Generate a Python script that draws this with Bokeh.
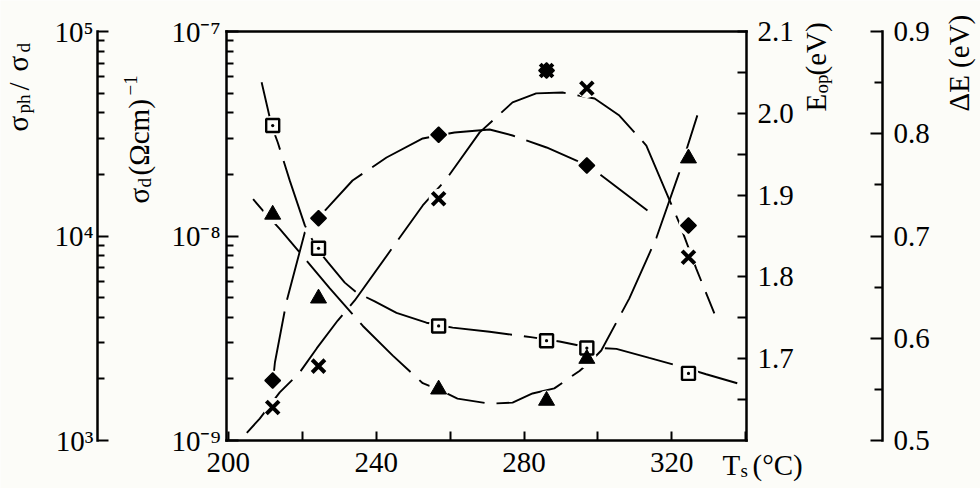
import math
from bokeh.plotting import figure
from bokeh.models import Range1d, LogScale, LinearScale, LinearAxis, LogAxis, FixedTicker, Label
from bokeh.embed import file_html
from bokeh.resources import INLINE

FONT = "Liberation Serif"
BG = "#fcfcf8"

# ---------------- data ----------------
Ts = [212.0, 224.4, 256.9, 286.1, 297.0, 324.5]
# crosses: sigma_d (Ohm cm)^-1
sigma_d = [1.45e-9, 2.31e-9, 1.52e-8, 6.45e-8, 5.28e-8, 7.87e-9]
# diamonds: sigma_ph / sigma_d
ratio = [1965, 12220, 31250, 64460, 22120, 11250]
# squares: E_op (eV)
eop = [1.985, 1.835, 1.740, 1.722, 1.713, 1.682]
# triangles: Delta E (eV)
dE = [0.721, 0.639, 0.550, 0.539, 0.580, 0.776]

# hand-drawn guide curves
sq_curve_T = [209.0, 211.7, 213.4, 216.6, 220.7, 223.9, 226.9, 231.5, 234.7, 239.6, 245.5, 253.6,
              260.7, 270.7, 282.3, 289.6, 297.2, 305.0, 313.9, 321.2, 329.3, 337.7]
sq_curve_v = [2.038, 1.985, 1.964, 1.918, 1.863, 1.835, 1.818, 1.793, 1.781, 1.770, 1.756, 1.744,
              1.738, 1.733, 1.726, 1.721, 1.714, 1.712, 1.701, 1.692, 1.681, 1.670]

tri_curve_T = [206.7, 209.3, 213.9, 219.3, 227.4, 236.4, 244.5, 252.6, 258.0, 262.0, 270.7, 276.9,
               282.3, 288.2, 295.0, 298.2, 300.9, 308.5, 315.8, 322.0, 326.9]
tri_curve_v = [0.736, 0.725, 0.707, 0.684, 0.649, 0.612, 0.583, 0.556, 0.548, 0.541, 0.536, 0.537,
               0.546, 0.551, 0.568, 0.578, 0.588, 0.639, 0.698, 0.762, 0.818]

x_curve_T = [205.0, 208.5, 213.9, 219.3, 223.9, 229.6, 234.2, 252.6, 259.1, 268.0, 276.9, 283.3,
             290.4, 299.1, 305.8, 313.1, 318.5, 322.0, 326.6, 331.5]
x_curve_v = [1.09e-9, 1.28e-9, 1.72e-9, 2.15e-9, 2.82e-9, 3.86e-9, 4.84e-9, 1.41e-8, 1.91e-8,
             3.21e-8, 4.50e-8, 4.98e-8, 5.03e-8, 4.70e-8, 3.88e-8, 2.77e-8, 1.63e-8, 1.16e-8,
             6.93e-9, 4.18e-9]

d_curve_T = [212.1, 212.6, 215.7, 220.7, 224.2, 227.0, 233.6, 242.8, 252.6, 261.2, 270.7, 276.9,
             286.1, 294.2, 299.9, 313.4]
d_curve_v = [1965, 2406, 4746, 10430, 12180, 13830, 18680, 24200, 29990, 32080, 33180, 31000,
             27090, 23390, 20440, 13330]

# tick labels
x_ticks = [200, 240, 280, 320]
x_minor = [220, 260, 300, 340]
sd_ticks = [1e-9, 1e-8, 1e-7]
sd_labels = ["10\u207b\u2079", "10\u207b\u2078", "10\u207b\u2077"]
ratio_ticks = [1e3, 1e4, 1e5]
ratio_labels = ["10\u00b3", "10\u2074", "10\u2075"]
eop_ticks = [1.7, 1.8, 1.9, 2.0, 2.1]
eop_labels = ["1.7", "1.8", "1.9", "2.0", "2.1"]
eop_minor = [1.65, 1.75, 1.85, 1.95, 2.05]
de_ticks = [0.5, 0.6, 0.7, 0.8, 0.9]
de_labels = ["0.5", "0.6", "0.7", "0.8", "0.9"]
de_minor = [0.55, 0.65, 0.75, 0.85]

# ---------------- geometry: the frame fills the whole canvas ----------------
W, H = 980, 488
BL, BR, BT, BB = 226, 746, 31, 440      # visible box (pixels)
X0, X1 = 199.5, 340.2                   # T range across the box

def px_to_x(px):
    return X0 + (px - BL) * (X1 - X0) / (BR - BL)

def lin_range(lo, hi):
    k = (hi - lo) / (BB - BT)
    return Range1d(lo - (H - BB) * k, hi + BT * k)

def log_range(lo, hi):
    a, b = math.log10(lo), math.log10(hi)
    k = (b - a) / (BB - BT)
    return Range1d(10 ** (a - (H - BB) * k), 10 ** (b + BT * k))

p = figure(width=W, height=H, x_range=Range1d(px_to_x(0), px_to_x(W)),
           y_range=log_range(1e-9, 1e-7), y_axis_type="log",
           output_backend="svg", toolbar_location=None,
           min_border=0, min_border_left=0, min_border_right=0, min_border_top=0, min_border_bottom=0,
           background_fill_color=BG, border_fill_color=BG, outline_line_color=None)
p.grid.visible = False

p.extra_y_ranges = {"ratio": log_range(1e3, 1e5), "eop": lin_range(1.6, 2.1), "de": lin_range(0.5, 0.9)}
p.extra_y_scales = {"ratio": LogScale(), "eop": LinearScale(), "de": LinearScale()}

def style(ax, size="29px"):
    ax.axis_line_color = "black"
    ax.axis_line_width = 2.5
    ax.axis_line_cap = "square"
    ax.major_tick_line_color = "black"
    ax.minor_tick_line_color = "black"
    ax.major_tick_line_width = 2
    ax.minor_tick_line_width = 2
    ax.major_tick_out = 0
    ax.minor_tick_out = 0
    ax.major_label_text_font = FONT
    ax.major_label_text_font_size = size
    ax.major_label_text_color = "black"

# x axis (bottom of box)
xa = p.xaxis[0]
xa.fixed_location = 1e-9
xa.bounds = (X0, X1)
xa.ticker = FixedTicker(ticks=x_ticks, minor_ticks=x_minor)
style(xa)
xa.major_tick_in = 9
xa.minor_tick_in = 9
xa.major_label_standoff = 12

# top edge of box
ta = LinearAxis(fixed_location=1e-7, bounds=(X0, X1), ticker=FixedTicker(ticks=[]))
style(ta)
p.add_layout(ta, "above")

# sigma_d axis (left edge of box)
ya = p.yaxis[0]
ya.fixed_location = X0
ya.bounds = (1e-9, 1e-7)
sd_minor = [k * 10.0 ** e for e in (-9, -8) for k in range(2, 10)]
ya.ticker = FixedTicker(ticks=sd_ticks, minor_ticks=sd_minor)
ya.major_label_overrides = dict(zip(sd_ticks, sd_labels))
style(ya)
ya.major_tick_in = 12
ya.minor_tick_in = 7
ya.major_label_standoff = 6

# sigma_ph/sigma_d axis (outer left)
r_minor = [k * 10.0 ** e for e in (3, 4) for k in range(2, 10)]
ax_r = LogAxis(y_range_name="ratio", fixed_location=px_to_x(97), bounds=(1e3, 1e5),
               ticker=FixedTicker(ticks=ratio_ticks, minor_ticks=r_minor))
ax_r.major_label_overrides = dict(zip(ratio_ticks, ratio_labels))
style(ax_r)
ax_r.major_tick_in = 11
ax_r.minor_tick_in = 7
ax_r.major_label_standoff = 4
p.add_layout(ax_r, "left")

# E_op axis (right edge of box)
ax_e = LinearAxis(y_range_name="eop", fixed_location=X1, bounds=(1.6, 2.1),
                  ticker=FixedTicker(ticks=eop_ticks, minor_ticks=eop_minor))
ax_e.major_label_overrides = dict(zip(eop_ticks, eop_labels))
style(ax_e)
ax_e.major_tick_in = 9
ax_e.minor_tick_in = 9
ax_e.major_label_standoff = 11
p.add_layout(ax_e, "right")

# Delta E axis (outer right)
ax_d = LinearAxis(y_range_name="de", fixed_location=px_to_x(882), bounds=(0.5, 0.9),
                  ticker=FixedTicker(ticks=de_ticks, minor_ticks=de_minor))
ax_d.major_label_overrides = dict(zip(de_ticks, de_labels))
style(ax_d)
ax_d.major_tick_in = 12
ax_d.minor_tick_in = 8
ax_d.major_label_standoff = 11
p.add_layout(ax_d, "right")

# ---------------- curves ----------------
LD = "70 12"
LW = 1.9
p.line(sq_curve_T, sq_curve_v, y_range_name="eop", line_color="black", line_width=LW, line_dash=LD)
p.line(tri_curve_T, tri_curve_v, y_range_name="de", line_color="black", line_width=LW, line_dash=LD)
p.line(x_curve_T, x_curve_v, line_color="black", line_width=LW, line_dash=LD)
p.line(d_curve_T, d_curve_v, y_range_name="ratio", line_color="black", line_width=LW, line_dash=LD)

# halos (gaps around markers)
for vals, rn in ((eop, "eop"), (dE, "de"), (ratio, "ratio"), (sigma_d, "default")):
    p.scatter(Ts, vals, y_range_name=rn, marker="circle", size=20, fill_color=BG, line_color=None)

# markers
p.scatter(Ts, eop, y_range_name="eop", marker="square_dot", size=13, fill_color=BG,
          line_color="black", line_width=2.4)
p.scatter(Ts, dE, y_range_name="de", marker="triangle", size=16, fill_color="black", line_color="black")
p.scatter(Ts, ratio, y_range_name="ratio", marker="square", angle=math.pi / 4, size=11,
          fill_color="black", line_color="black", line_width=1.5)
p.scatter(Ts, sigma_d, marker="x", size=18, line_color="black", line_width=4)

# ---------------- titles ----------------
def txt(s, px, py, size=29, angle=0.0):
    p.add_layout(Label(x=px, y=H - py, x_units="screen", y_units="screen", text=s,
                       angle=angle, text_font=FONT, text_font_size=f"{size}px",
                       text_color="black", text_align="left", text_baseline="alphabetic"))

UP = math.pi / 2
# sigma_ph / sigma_d
txt("\u03c3", 17, 131, 29, UP)
txt("ph", 23, 113, 19, UP)
txt("/", 18, 90, 29, UP)
txt("\u03c3", 17, 71, 29, UP)
txt("d", 23, 52, 19, UP)
# sigma_d (Ohm cm)^-1
txt("\u03c3", 138, 203, 29, UP)
txt("d", 144, 187, 19, UP)
txt("(\u03a9cm)", 138, 175, 29, UP)
txt("\u22121", 130, 95, 19, UP)
# E_op (eV)
txt("E", 815, 111, 29, UP)
txt("op", 821, 93, 19, UP)
txt("(eV)", 815, 75, 29, UP)
# Delta E (eV)
txt("\u0394E (eV)", 958, 111, 29, UP)
# T_s (deg C)
txt("T", 722, 464, 29)
txt("s", 740, 470, 19)
txt("(\u00b0C)", 752, 464, 29)

open("out.html", "w").write(file_html(p, INLINE))
